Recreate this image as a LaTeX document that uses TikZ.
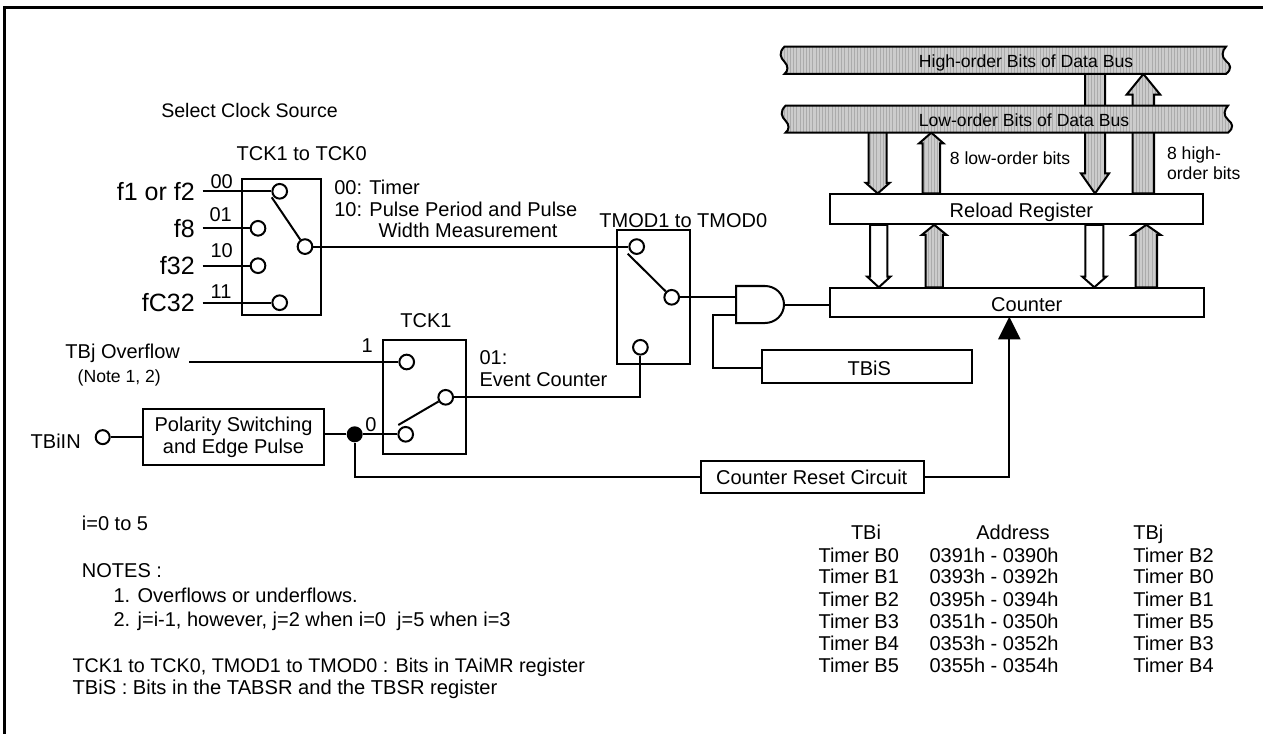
\documentclass[tikz,border=0pt]{standalone}
\usepackage{fontspec}
\setmainfont{Liberation Sans}
\usetikzlibrary{calc,arrows.meta,patterns.meta}
\tikzset{
  wire/.style={line width=1.5pt,line cap=butt},
  lab/.style={inner sep=0pt,font=\fontsize{15}{16.2}\selectfont,text height=10.7pt,text depth=0pt},
  smalllab/.style={lab,font=\fontsize{13.2}{14.5}\selectfont,text height=9.45pt},
  biglab/.style={lab,font=\fontsize{18.75}{20}\selectfont,text height=13.4pt},
  boxn/.style={draw,line width=1.5pt,fill=white,inner sep=0pt,minimum width=#1},
  swc/.style={draw,circle,line width=1.5pt,fill=white,inner sep=0pt,minimum size=11pt},
  hatched/.style={preaction={fill=black!20},pattern={Lines[angle=90,distance=2.4pt,line width=.7pt]},pattern color=black!33},
  blank/.style={fill=white}
}
% x, shaft half, head half, tail coordinate, tip coordinate, head length, look
\newcommand{\blockarrow}[7]{%
  \path (#1,0 |- #4) coordinate (T) (#1,0 |- #5) coordinate (H);
  \draw[wire,#7,line join=miter] ($(T)+(-#2,0)$) -- ($(H)!#6!(T)+(-#2,0)$) -- ($(H)!#6!(T)+(-#3,0)$) -- (H)
     -- ($(H)!#6!(T)+(#3,0)$) -- ($(H)!#6!(T)+(#2,0)$) -- ($(T)+(#2,0)$) -- cycle;
}
% left, right, top, bottom
\newcommand{\busshape}[4]{%
  \draw[wire,hatched] (#1,#3) .. controls (#1-6,#3+6) and (#1-4,#3+11) .. (#1,#3+15)
     .. controls (#1+4,#3+19) and (#1+4,#4-3) .. (#1,#4) -- (#2,#4)
     .. controls (#2+6,#4-5) and (#2+5,#4-9) .. (#2,#4-13)
     .. controls (#2-5,#4-17) and (#2-4,#3+4) .. (#2,#3) -- cycle;
}
\begin{document}
\begin{tikzpicture}[x=0.75pt,y=-0.75pt]
\useasboundingbox (0,0) rectangle (1263,734);
\fill[white] (0,0) rectangle (1263,734);
% frame
\coordinate (framea) at (4.5,734); \coordinate (frameb) at (4.5,7.5); \coordinate (framec) at (1263,7.5);
\draw[line width=2.25pt] (framea) -- (frameb) -- (framec);

% boxes
\node[boxn=59.25pt,minimum height=101.8pt] (tckbox) at (281.2,247.15) {};
\node[boxn=55.2pt,minimum height=100.5pt] (tmodbox) at (653.5,297) {};
\node[boxn=62pt,minimum height=85.4pt] (tckonebox) at (424.65,397.4) {};
\node[boxn=135.75pt,minimum height=41.8pt,font=\fontsize{15}{16.2}\selectfont,align=center] (pol) at (233.5,437.15) {Polarity Switching\\and Edge Pulse};
\node[boxn=157.05pt,minimum height=25.2pt] (tbis) at (867,366.5) {};
\node[lab] (tbistext) at (869.3,368.3) {TBiS};
\node[boxn=167.4pt,minimum height=24.4pt] (crst) at (812.35,476.85) {};
\node[lab] (crsttext) at (811.7,477.7) {Counter Reset Circuit};

% data-bus reference points
\coordinate (hib) at (1000,74);
\coordinate (hic) at (1000,60);
\coordinate (lob) at (1000,132.7);
\coordinate (loc) at (1000,119);

% register boxes
\node[boxn=279.5pt,minimum height=22pt] (reload) at (1016.35,209.15) {};
\node[lab] (reloadtext) at (1021.4,210.7) {Reload Register};
\node[boxn=280.5pt,minimum height=21.3pt] (counter) at (1017,302.5) {};
\node[lab] (countertext) at (1026.8,304) {Counter};

% block arrows
\blockarrow{877.7}{9}{12}{loc}{reload.north}{8pt}{hatched}
\blockarrow{931.3}{8.7}{12.2}{reload.north}{lob}{8pt}{hatched}
\blockarrow{1095}{10}{14}{hic}{reload.north}{15pt}{hatched}
\blockarrow{1143.4}{10.7}{16.8}{reload.north}{hib}{15.5pt}{hatched}
\blockarrow{878.8}{8.6}{11.6}{reload.south}{counter.north}{8pt}{blank}
\blockarrow{934.2}{8.7}{12.3}{counter.north}{reload.south}{7.5pt}{hatched}
\blockarrow{1094.3}{9}{12}{reload.south}{counter.north}{8pt}{blank}
\blockarrow{1146.3}{10.7}{14.3}{counter.north}{reload.south}{7.5pt}{hatched}

% data buses
\busshape{785.5}{1228}{105.7}{132.7}
\busshape{784.4}{1226}{46.7}{74}
\node[smalllab] (hitext) at (1026,61.7) {High-order Bits of Data Bus};
\node[smalllab] (lotext) at (1024,120.5) {Low-order Bits of Data Bus};
\node[smalllab,anchor=west] (lowbits) at (949.6,158) {8 low-order bits};
\node[smalllab,anchor=west] (highbitsa) at (1166.8,153) {8 high-};
\node[smalllab,anchor=west] (highbitsb) at (1166.8,173) {order bits};

% clock select switch
\node[swc] (sa) at (279.7,191.3) {};
\node[swc] (sb) at (258,228.3) {};
\node[swc] (sc) at (258,265.7) {};
\node[swc] (sd) at (279.7,302.7) {};
\node[swc] (so) at (305,246.6) {};
\coordinate (ina) at (202.7,191.3);
\coordinate (inb) at (202.7,228.3);
\coordinate (inc) at (202.7,265.7);
\coordinate (ind) at (202.7,302.7);
\coordinate (arma) at (271.7,197.3);
\draw[wire] (ina) -- (sa);
\draw[wire] (inb) -- (sb);
\draw[wire] (inc) -- (sc);
\draw[wire] (ind) -- (sd);
\draw[wire] (arma) -- (so);
\node[biglab,anchor=east] (fa) at (195,191.3) {f1 or f2};
\node[biglab,anchor=east] (fb) at (195,228.3) {f8};
\node[biglab,anchor=east] (fc) at (195,265.7) {f32};
\node[biglab,anchor=east] (fd) at (195,302.7) {fC32};
\node[lab] (la) at (221.7,181.7) {00};
\node[lab] (lb) at (220.7,214.3) {01};
\node[lab] (lc) at (221.7,250.3) {10};
\node[lab] (ld) at (221,291.7) {11};

% mode switch
\node[swc] (ma) at (636.7,246.6) {};
\node[swc] (mo) at (671.7,297.3) {};
\node[swc] (mc) at (640.4,347.3) {};
\coordinate (armm) at (627.7,253.7);
\draw[wire] (so) -- (ma);
\draw[wire] (armm) -- (mo);

% TCK1 switch
\node[swc] (ta) at (406.7,362) {};
\node[swc] (tb) at (405.7,434.3) {};
\node[swc] (to) at (445.7,397.3) {};
\coordinate (armt) at (398.3,425);
\coordinate (tbjin) at (189.3,362);
\draw[wire] (tbjin) -- (ta);
\draw[wire] (armt) -- (to);
\draw[wire] (to) -| (mc);

% polarity input
\node[swc,minimum size=10.5pt] (tbiin) at (102.7,437.15) {};
\draw[wire] (tbiin) -- (pol.west);
\node[circle,fill=black,inner sep=0pt,minimum size=12pt] (dot) at (354.7,434.3) {};
\draw[wire] (pol.east |- dot) -- (dot);
\draw[wire] (dot) -- (tb);
\draw[wire] (dot) |- (crst.west);
\coordinate (ctip) at (1009.3,316.7);
\draw[wire,-{Triangle[length=17pt,width=16.5pt]}] (crst.east) -| (ctip);

% AND gate
\coordinate (gi) at (736,297.3);
\coordinate (gj) at (736,314.7);
\coordinate (go) at (784,305);
\draw[wire,line join=miter] (736,286) -- (765,286) arc[start angle=90,end angle=-90,x radius=14.25pt,y radius=13.875pt] -- (736,323) -- cycle;
\draw[wire] (mo) -- (gi);
\draw[wire] (go) -- (counter.west |- go);
\draw[wire] (gj) -| (713,367.7) -- (tbis.west |- 0,367.7);

% labels
\node[lab,anchor=west,font=\fontsize{14.7}{16}\selectfont] (sel) at (161,110) {Select Clock Source};
\node[lab] (tcklab) at (301.7,153.3) {TCK1 to TCK0};
\node[lab,anchor=west] (timer) at (334,187) {00: Timer};
\node[lab,anchor=west] (pulsea) at (334,209.3) {10: Pulse Period and Pulse};
\node[lab,anchor=west] (pulseb) at (378.3,230.7) {Width Measurement};
\node[lab] (tmodlab) at (683.3,220) {TMOD1 to TMOD0};
\node[lab] (tckonelab) at (426,320) {TCK1};
\node[lab,anchor=west] (eva) at (479.3,357.3) {01:};
\node[lab,anchor=west] (evb) at (479.3,379.3) {Event Counter};
\node[lab] (one) at (367.3,345.3) {1};
\node[lab] (zero) at (371,424.3) {0};
\node[lab] (tbjover) at (122.7,351) {TBj Overflow};
\node[smalllab] (note) at (119.3,375.7) {(Note 1, 2)};
\node[lab] (tbiintext) at (55.7,441) {TBiIN};

% notes
\node[lab,anchor=west] (nia) at (81.7,523.3) {i=0 to 5};
\node[lab,anchor=west] (nib) at (81.7,570) {NOTES :};
\node[lab,anchor=west] (nic) at (113.3,595.7) {1. Overflows or underflows.};
\node[lab,anchor=west] (nid) at (113.3,619) {2. j=i-1, however, j=2 when i=0\ \ j=5 when i=3};
\node[lab,anchor=west,font=\fontsize{14.8}{16}\selectfont] (nie) at (72.3,665) {TCK1 to TCK0, TMOD1 to TMOD0 : Bits in TAiMR register};
\node[lab,anchor=west,font=\fontsize{15.1}{16}\selectfont] (nif) at (72.3,687.7) {TBiS : Bits in the TABSR and the TBSR register};

% table
\node[lab] (h1) at (866,532.3) {TBi};
\node[lab] (h2) at (1013,532.3) {Address};
\node[lab,anchor=west] (h3) at (1133,532.3) {TBj};
\foreach \n/\y/\a/\b/\c in {0/555/Timer B0/0391h - 0390h/Timer B2,
  1/576.7/Timer B1/0393h - 0392h/Timer B0,
  2/599/Timer B2/0395h - 0394h/Timer B1,
  3/621.7/Timer B3/0351h - 0350h/Timer B5,
  4/643.3/Timer B4/0353h - 0352h/Timer B3,
  5/665/Timer B5/0355h - 0354h/Timer B4}{
  \node[lab,anchor=west] (ra\n) at (818.3,\y) {\a};
  \node[lab,anchor=west] (rb\n) at (929.3,\y) {\b};
  \node[lab,anchor=west] (rc\n) at (1133,\y) {\c};
}
\end{tikzpicture}
\end{document}
